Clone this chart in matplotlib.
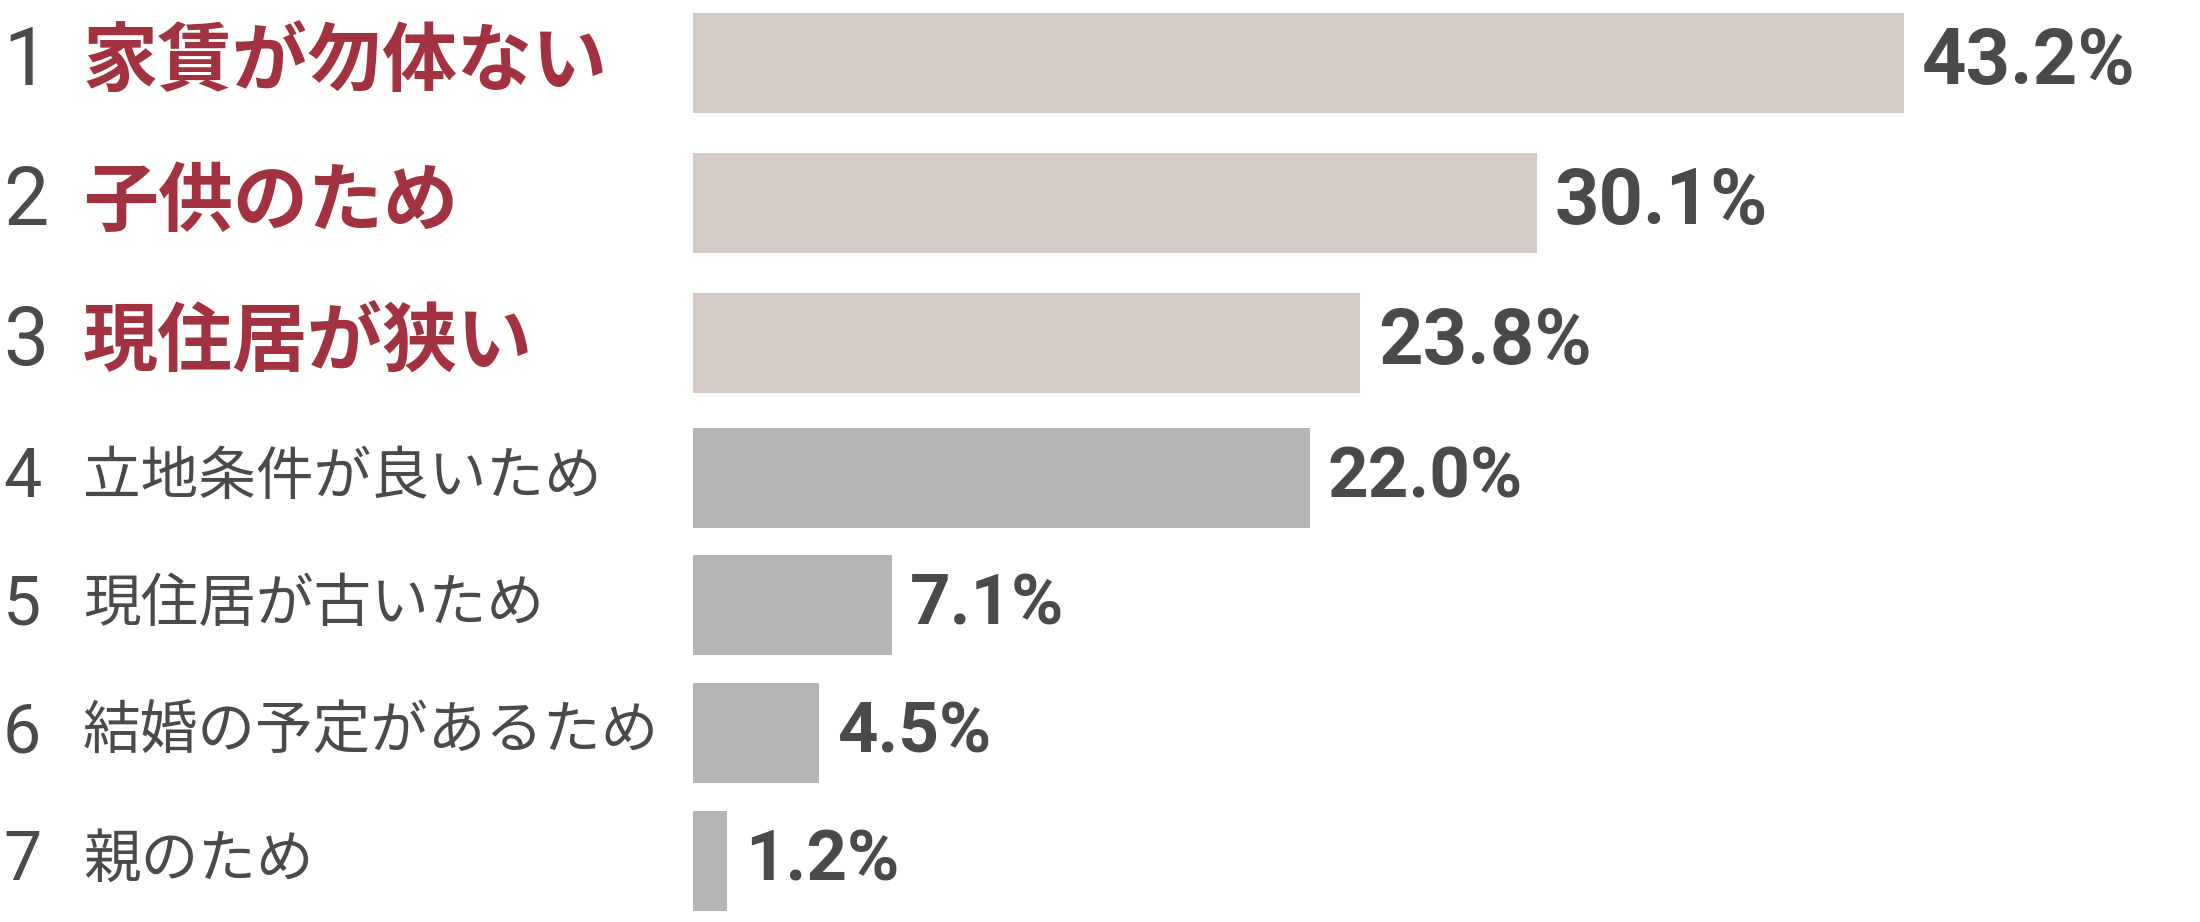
import matplotlib.pyplot as plt

ranks = ['1', '2', '3', '4', '5', '6', '7']
reasons = ['家賃が勿体ない', '子供のため', '現住居が狭い', '立地条件が良いため',
           '現住居が古いため', '結婚の予定があるため', '親のため']
values = [43.2, 30.1, 23.8, 22.0, 7.1, 4.5, 1.2]
top_n = 3

# layout (pixels of a 2200x922 canvas)
W, H = 2200, 922
row_y = [63, 203, 343, 478, 605, 733, 861]
bar_h = 100
x0 = 693          # where the bars start
px_per_pct = 28.03

red = '#a2323f'
dark = '#4a4a48'
top_bar = '#d4cac5'
low_bar = '#b5b5b5'
jp = ['Noto Sans CJK JP', 'DejaVu Sans']

fig = plt.figure(figsize=(W / 100, H / 100), dpi=100)
ax = fig.add_axes([0, 0, 1, 1])
ax.set_xlim(-x0 / px_per_pct, (W - x0) / px_per_pct)
ax.set_ylim(H, 0)
ax.axis('off')

colors = [top_bar if i < top_n else low_bar for i in range(len(values))]
ax.barh(row_y, values, height=bar_h, color=colors, left=0)

tr = ax.get_yaxis_transform()
for i, (r, lab, v, y) in enumerate(zip(ranks, reasons, values, row_y)):
    top = i < top_n
    ax.text(3 / W, y, r, transform=tr, ha='left', va='center',
            fontsize=58 if top else 49, color=dark, family='Roboto',
            fontweight='normal')
    ax.text(83 / W, y, lab, transform=tr, ha='left', va='center',
            fontsize=54 if top else 41.5, color=red if top else dark,
            family=jp, fontweight='bold' if top else 'normal')
    ax.text(v + 18 / px_per_pct, y, f'{v:.1f}%', ha='left', va='center',
            fontsize=56 if top else 51, color=dark, family='Roboto',
            fontweight='bold')

fig.savefig('out.png', dpi=100)
